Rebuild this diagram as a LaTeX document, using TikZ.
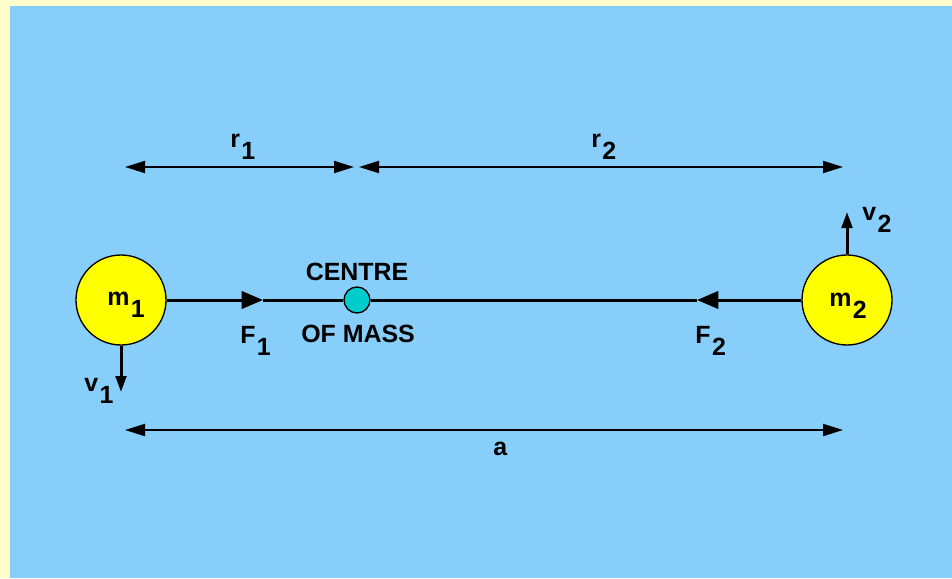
\documentclass[tikz,border=0pt]{standalone}
\usepackage{fontspec}
\setmainfont{Liberation Sans}
\usetikzlibrary{arrows.meta}
\definecolor{bgyellow}{RGB}{255,255,204}
\definecolor{bgblue}{RGB}{135,206,250}
\definecolor{massyellow}{RGB}{255,255,0}
\definecolor{comcyan}{RGB}{0,204,204}
\newcommand{\lowsub}[1]{\kern0.06em\raisebox{-9pt}{#1}}
\tikzset{
  mass/.style={circle, draw=black, line width=1pt, fill=massyellow, minimum size=67.5pt, inner sep=0pt},
  comdot/.style={circle, draw=black, line width=1pt, fill=comcyan, minimum size=19.5pt, inner sep=0pt},
  lbl/.style={inner sep=0pt, font=\fontsize{18.7}{20}\selectfont\bfseries},
  mainline/.style={line width=2.25pt},
  force/.style={mainline, -{Triangle[length=16pt, width=13pt]}},
  vel/.style={line width=2.25pt, -{Triangle[length=12pt, width=8pt]}},
  dim/.style={line width=1.5pt, {Triangle[length=15pt, width=9pt]}-{Triangle[length=15pt, width=9pt]}}
}
\begin{document}
\begin{tikzpicture}[x=0.75pt, y=-0.75pt]
\fill[bgyellow] (0,0) rectangle (952,578);
\fill[bgblue] (10,6) rectangle (952,578);
\useasboundingbox (0,0) rectangle (952,578);

% masses and centre of mass
\node[mass] (m1) at (121,300) {};
\node[mass] (m2) at (847,300) {};
\node[comdot] (com) at (357,300) {};

% force line
\coordinate (f1tip) at (263,300);
\coordinate (f2tip) at (697,300);
\draw[force] (m1.east) -- (f1tip);
\draw[mainline] (f1tip) -- (com.west);
\draw[mainline] (com.east) -- (f2tip);
\draw[force] (m2.west) -- (f2tip);

% velocities
\coordinate (v1tip) at (121,392);
\coordinate (v2tip) at (847,212);
\draw[vel] (m1.south) -- (v1tip);
\draw[vel] (m2.north) -- (v2tip);

% dimension lines
\coordinate (r1a) at (125,167);
\coordinate (r1b) at (354,167);
\coordinate (r2a) at (359,167);
\coordinate (r2b) at (843,167);
\coordinate (aa) at (125,430);
\coordinate (ab) at (843,430);
\draw[dim] (r1a) -- (r1b);
\draw[dim] (r2a) -- (r2b);
\draw[dim] (aa) -- (ab);

% labels
\node[lbl, anchor=base west] (lm1) at (107,305) {m\lowsub{1}};
\node[lbl, anchor=base west] (lm2) at (829,306) {m\lowsub{2}};
\node[lbl, anchor=base west] (lr1) at (230,147) {r\lowsub{1}};
\node[lbl, anchor=base west] (lr2) at (591,147) {r\lowsub{2}};
\node[lbl, anchor=base west] (la) at (493,455) {a};
\node[lbl, anchor=base west] (lf1) at (240,343) {F\lowsub{1}};
\node[lbl, anchor=base west] (lf2) at (695,343) {F\lowsub{2}};
\node[lbl, anchor=base west] (lv1) at (84,391) {v\lowsub{1}};
\node[lbl, anchor=base west] (lv2) at (862,220) {v\lowsub{2}};
\node[lbl, anchor=base] (lc1) at (357,280) {CENTRE};
\node[lbl, anchor=base west] (lc2) at (301,342) {OF MASS};
\end{tikzpicture}
\end{document}
